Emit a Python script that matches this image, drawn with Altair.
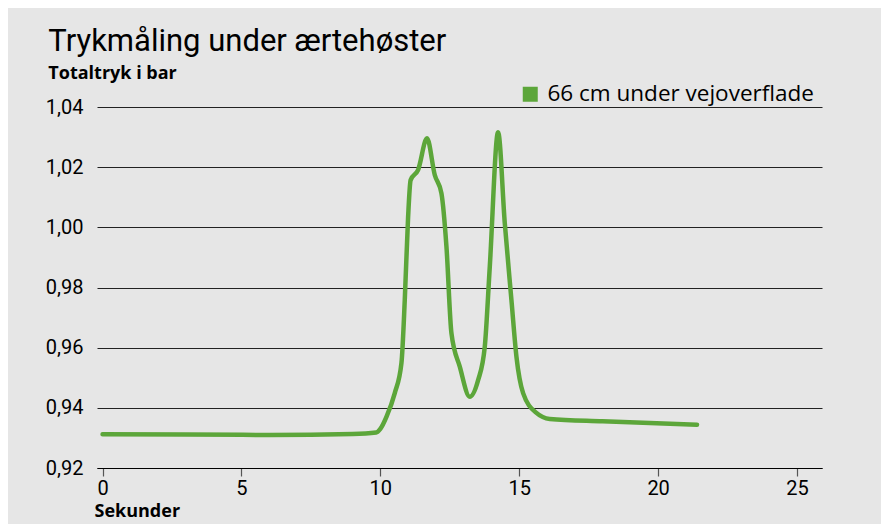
import altair as alt
import pandas as pd

series_name = "66 cm under vejoverflade"
seconds = [0, 3, 6, 9, 9.85, 10.0, 10.22, 10.52, 10.76, 10.88, 11.0, 11.09, 11.36, 11.68,
           11.96, 12.2, 12.38, 12.56, 12.86, 13.22, 13.52, 13.76, 13.94, 14.24, 14.48,
           14.72, 14.9, 15.14, 15.62, 16.1, 18.0, 21.4]
tryk = [0.9312, 0.9311, 0.9310, 0.9313, 0.9318, 0.9330, 0.9370, 0.9449, 0.9549, 0.9759,
        1.0035, 1.0157, 1.0191, 1.0296, 1.0174, 1.0113, 0.9936, 0.9648, 0.9537, 0.9437,
        0.9492, 0.9603, 0.9869, 1.0316, 1.0014, 0.9758, 0.9570, 0.9449, 0.9383, 0.9363,
        0.9355, 0.9344]
x_ticks = [0, 5, 10, 15, 20, 25]
y_ticks = [0.92, 0.94, 0.96, 0.98, 1.00, 1.02, 1.04]

df = pd.DataFrame({"Sekunder": seconds, "Tryk": tryk, "Serie": series_name})

FONT = "Roboto"
BOLD = "Open Sans"
GREEN = "#5ca63a"

chart = alt.Chart(df).mark_line(
    interpolate="monotone", strokeWidth=4.5, strokeCap="round", strokeJoin="round"
).encode(
    x=alt.X("Sekunder:Q",
            scale=alt.Scale(domain=[-0.2, 25.9], nice=False, zero=False),
            axis=alt.Axis(values=x_ticks, title="Sekunder", grid=False,
                          domainColor="black", domainWidth=1.2,
                          tickColor="#555555", tickSize=8, tickWidth=1.2,
                          labelFontSize=20, labelColor="black", labelFont=FONT,
                          labelPadding=2,
                          titleFont=BOLD, titleFontSize=18, titleFontWeight="bold",
                          titleColor="black", titleAnchor="start", titleAlign="left",
                          titleX=-3, titlePadding=4)),
    y=alt.Y("Tryk:Q",
            scale=alt.Scale(domain=[0.92, 1.04], nice=False, zero=False),
            axis=alt.Axis(values=y_ticks, title=None, domain=False, ticks=False,
                          grid=True, gridColor="#222222", gridWidth=1,
                          labelExpr="replace(format(datum.value, '.2f'), '.', ',')",
                          labelFontSize=20, labelColor="black", labelFont=FONT,
                          labelPadding=14)),
    color=alt.Color("Serie:N",
                    scale=alt.Scale(domain=[series_name], range=[GREEN]),
                    legend=alt.Legend(title=None, orient="none", legendX=422, legendY=-24,
                                      symbolType="square", symbolSize=225,
                                      symbolStrokeWidth=0, symbolFillColor=GREEN,
                                      labelFontSize=22.5, labelFont=BOLD, labelColor="black",
                                      labelOffset=6, labelLimit=400, padding=0))
).properties(
    width=725,
    height=361,
    background="#e6e6e6",
    padding={"left": 89, "top": 99, "right": 59, "bottom": 56},
    autosize=alt.AutoSizeParams(type="none"),
    title=alt.TitleParams(
        text="Trykmåling under ærtehøster",
        subtitle="Totaltryk i bar",
        anchor="start", frame="bounds",
        font=FONT, fontSize=31, fontWeight="normal", color="black",
        subtitleFont=BOLD, subtitleFontSize=18, subtitleFontWeight="bold",
        subtitleColor="black", subtitlePadding=7, offset=-1, dx=3
    )
).configure_view(stroke=None)

chart.save("out.html", embed_options={"renderer": "svg", "actions": False})
